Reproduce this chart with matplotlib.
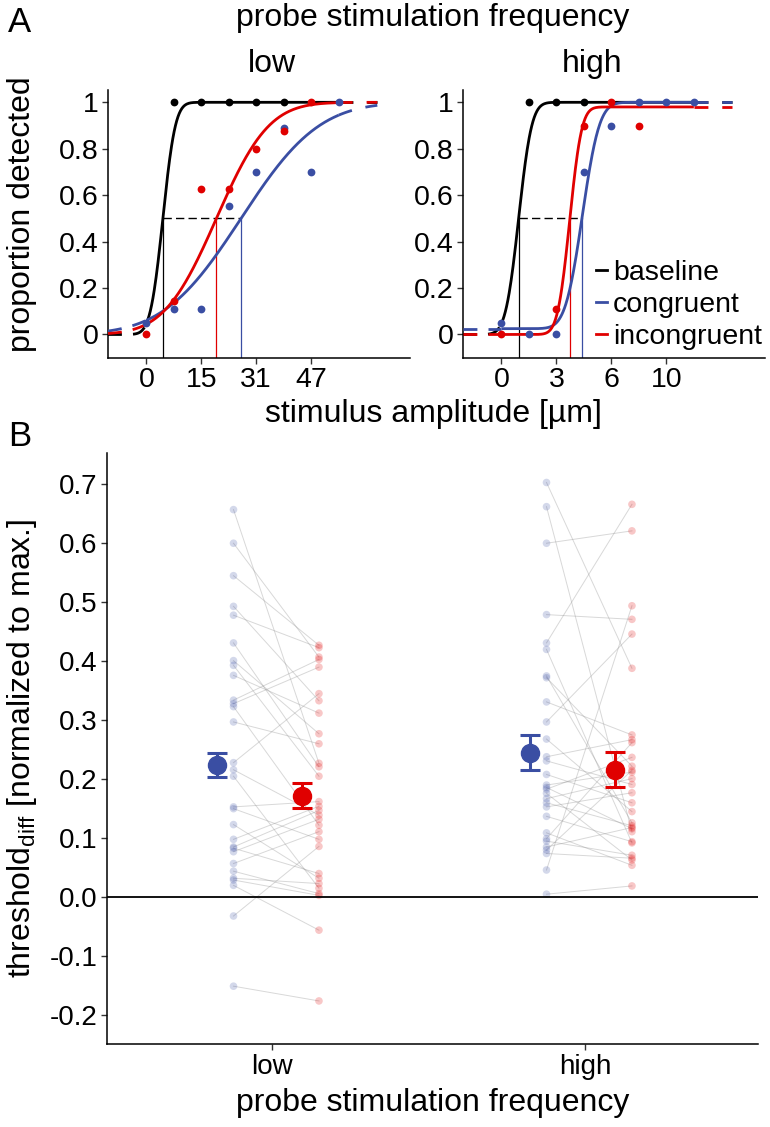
import math
import numpy as np
import matplotlib
matplotlib.use("Agg")
import matplotlib.pyplot as plt
from matplotlib.lines import Line2D

plt.rcParams['font.family'] = ['Liberation Sans', 'DejaVu Sans']
plt.rcParams['mathtext.default'] = 'regular'
plt.rcParams['lines.scale_dashes'] = False

BLUE = '#3a4ea3'
RED = '#e00000'

# ---------------- panel A data ----------------
conditions = ['baseline', 'congruent', 'incongruent']
cond_colors = ['black', BLUE, RED]

# low probe frequency (stimulus amplitude in um)
low_x = [0, 7.8, 15.6, 23.4, 31.2, 39.0, 46.8, 54.7]
low_ticks = [0, 15.6, 31.2, 46.8]
low_ticklabels = ['0', '15', '31', '47']
low_base_x = [7.8, 15.6, 23.4, 31.2, 39.0]
low_base_y = [1, 1, 1, 1, 1]
low_cong_x = [0, 7.8, 15.6, 23.4, 31.2, 39.0, 46.8, 54.7]
low_cong_y = [0.05, 0.11, 0.11, 0.555, 0.70, 0.89, 0.70, 1.0]
low_incong_x = [0, 7.8, 15.6, 23.4, 31.2, 39.0, 46.8]
low_incong_y = [0.0, 0.145, 0.625, 0.625, 0.80, 0.875, 1.0]
# fitted psychometric parameters: threshold, width, guess, lapse
low_thr = [4.66, 26.9, 19.9]
low_width = [2.8, 17.4, 11.7]
low_guess = [0.0, 0.0, 0.0]
low_lapse = [0.0, 0.0, 0.0]

# high probe frequency
high_x = [0, 1.6, 3.2, 4.8, 6.4, 8.0, 9.6, 11.2]
high_ticks = [0, 3.2, 6.4, 9.6]
high_ticklabels = ['0', '3', '6', '10']
high_base_x = [1.6, 3.2, 4.8]
high_base_y = [1, 1, 1]
high_cong_x = [0, 1.6, 3.2, 4.8, 6.4, 8.0, 9.6, 11.2]
high_cong_y = [0.05, 0.0, 0.0, 0.70, 0.90, 1.0, 1.0, 1.0]
high_incong_x = [0, 3.2, 4.8, 6.4, 8.0]
high_incong_y = [0.0, 0.11, 0.90, 1.0, 0.90]
high_thr = [1.0, 4.71, 3.97]
high_width = [0.6, 0.78, 0.55]
high_guess = [0.0, 0.025, 0.0]
high_lapse = [0.0, 0.0, 0.02]

# ---------------- panel B data ----------------
cong_low = [0.657, 0.600, 0.545, 0.493, 0.478, 0.431, 0.401, 0.393, 0.376, 0.334,
            0.328, 0.323, 0.297, 0.228, 0.216, 0.205, 0.153, 0.150, 0.123, 0.098,
            0.085, 0.083, 0.077, 0.057, 0.044, 0.032, 0.029, 0.020, -0.032, -0.151]
incong_low = [0.227, 0.407, 0.427, 0.333, 0.423, 0.221, 0.277, 0.205, 0.312, 0.403,
              0.390, 0.122, 0.260, 0.345, 0.139, 0.015, 0.162, 0.098, 0.032, 0.154,
              0.147, 0.040, 0.132, 0.111, 0.006, 0.023, 0.003, -0.056, 0.086, -0.176]
cong_high = [0.703, 0.662, 0.600, 0.479, 0.431, 0.420, 0.375, 0.372, 0.331, 0.297,
             0.268, 0.238, 0.231, 0.208, 0.190, 0.186, 0.183, 0.176, 0.167, 0.160,
             0.153, 0.137, 0.109, 0.099, 0.095, 0.085, 0.080, 0.074, 0.046, 0.005]
incong_high = [0.388, 0.111, 0.621, 0.471, 0.666, 0.092, 0.126, 0.222, 0.275, 0.446,
               0.145, 0.267, 0.191, 0.160, 0.212, 0.116, 0.237, 0.063, 0.201, 0.121,
               0.177, 0.094, 0.054, 0.262, 0.071, 0.118, 0.215, 0.066, 0.494, 0.019]
freq_labels = ['low', 'high']
mean_cong = [0.224, 0.245]
se_cong = [0.0205, 0.030]
mean_incong = [0.172, 0.216]
se_incong = [0.0215, 0.0295]

W, H = 770, 1127
fig = plt.figure(figsize=(W / 100, H / 100), dpi=100)


def box(x0, y0, x1, y1):
    return [x0 / W, 1 - y1 / H, (x1 - x0) / W, (y1 - y0) / H]


def psy(x, thr, width, guess, lapse):
    x = np.asarray(x, dtype=float)
    phi = 0.5 * (1 + np.vectorize(math.erf)((x - thr) / (width * math.sqrt(2))))
    return guess + (1 - guess - lapse) * phi


def panel_a(ax, xs, ticks, ticklabels, pts, thr, width, guess, lapse):
    lo, hi = min(xs), max(xs)
    ext = 0.2 * (hi - lo)
    for i, c in enumerate(cond_colors):
        p = (thr[i], width[i], guess[i], lapse[i])
        xx = np.linspace(lo, hi, 300)
        ax.plot(xx, psy(xx, *p), color=c, lw=2.0, solid_capstyle='butt', zorder=3)
        xl = np.linspace(lo - ext, lo, 50)
        ax.plot(xl, psy(xl, *p), color=c, lw=2.0, dashes=(10, 8), zorder=3)
        xr = np.linspace(hi, hi + ext, 50)
        ax.plot(xr, psy(xr, *p), color=c, lw=2.0, dashes=(10, 10), zorder=3)
    for i, c in enumerate(cond_colors):
        ax.plot([thr[i], thr[i]], [-0.1, 0.5], color=c, lw=0.9, zorder=2)
    ax.plot([thr[0], max(thr)], [0.5, 0.5], color='black', lw=1.0,
            dashes=(6, 3), zorder=2)
    for (px, py), c in zip(pts, cond_colors):
        ax.plot(px, py, 'o', color=c, ms=5.6, mec='none', zorder=4)
    ax.set_xlim(lo - ext, hi + 0.37 * (hi - lo))
    ax.set_ylim(-0.1, 1.053)
    ax.set_xticks(ticks)
    ax.set_xticklabels(ticklabels)
    ax.set_yticks([0, 0.2, 0.4, 0.6, 0.8, 1.0])
    ax.set_yticklabels(['0', '0.2', '0.4', '0.6', '0.8', '1'])


def style(ax, size=20.5):
    for s in ['top', 'right']:
        ax.spines[s].set_visible(False)
    for s in ['left', 'bottom']:
        ax.spines[s].set_linewidth(1.1)
    ax.tick_params(labelsize=size, length=4, width=1.0, color='#333333', pad=3)


axA1 = fig.add_axes(box(108, 90, 410, 357.7))
axA2 = fig.add_axes(box(463, 90, 765, 357.7))
panel_a(axA1, low_x, low_ticks, low_ticklabels,
        [(low_base_x, low_base_y), (low_cong_x, low_cong_y), (low_incong_x, low_incong_y)],
        low_thr, low_width, low_guess, low_lapse)
panel_a(axA2, high_x, high_ticks, high_ticklabels,
        [(high_base_x, high_base_y), (high_cong_x, high_cong_y), (high_incong_x, high_incong_y)],
        high_thr, high_width, high_guess, high_lapse)
style(axA1)
style(axA2)

handles = [Line2D([], [], color=c, lw=2.0) for c in cond_colors]
axA2.legend(handles, conditions, loc='lower right', bbox_to_anchor=(0.99, 0.03),
            frameon=False, fontsize=20.5, handlelength=0.4, handletextpad=0.2,
            labelspacing=0.2, borderaxespad=0, borderpad=0)

# ---------------- panel B ----------------
axB = fig.add_axes(box(107, 453, 758, 1044))
xpos = np.array([1, 2])
for k in range(2):
    c_vals = [cong_low, cong_high][k]
    i_vals = [incong_low, incong_high][k]
    xb = xpos[k] - 0.123
    xr = xpos[k] + 0.15
    for a, b in zip(c_vals, i_vals):
        axB.plot([xb, xr], [a, b], color='#909090', lw=0.7, alpha=0.35, zorder=1)
    axB.scatter([xb] * len(c_vals), c_vals, s=30, color=BLUE, alpha=0.22,
                edgecolors='none', zorder=2)
    axB.scatter([xr] * len(i_vals), i_vals, s=30, color=RED, alpha=0.22,
                edgecolors='none', zorder=2)
axB.axhline(0, color='black', lw=1.3, zorder=3)
axB.errorbar(xpos - 0.176, mean_cong, yerr=se_cong, fmt='o', color=BLUE, ms=13,
             elinewidth=2.2, capsize=7, capthick=2.2, zorder=5)
axB.errorbar(xpos + 0.096, mean_incong, yerr=se_incong, fmt='o', color=RED, ms=13,
             elinewidth=2.2, capsize=7, capthick=2.2, zorder=5)
axB.set_xlim(1 - 165 / 313, 1 + (758 - 272) / 313)
axB.set_ylim(-0.249, 0.753)
axB.set_xticks(xpos)
axB.set_xticklabels(freq_labels)
yt = np.round(np.arange(-0.2, 0.71, 0.1), 1)
axB.set_yticks(yt)
axB.set_yticklabels(['%.1f' % v for v in yt])
style(axB, 20)
axB.set_xlabel('probe stimulation frequency', fontsize=23, labelpad=6)

# ---------------- figure texts ----------------
fig.text(8 / W, 1 - 22 / H, 'A', fontsize=25, va='center', ha='left')
fig.text(8 / W, 1 - 437 / H, 'B', fontsize=25, va='center', ha='left')
fig.text(433 / W, 1 - 18 / H, 'probe stimulation frequency', fontsize=23,
         ha='center', va='center')
fig.text(272 / W, 1 - 64 / H, 'low', fontsize=23, ha='center', va='center')
fig.text(592 / W, 1 - 64 / H, 'high', fontsize=23, ha='center', va='center')
fig.text(433 / W, 1 - 414 / H, 'stimulus amplitude [µm]', fontsize=23,
         ha='center', va='center')
fig.text(22 / W, 1 - 214 / H, 'proportion detected', fontsize=23,
         ha='center', va='center', rotation=90)
fig.text(22 / W, 1 - 748 / H, r'threshold$_{diff}$ [normalized to max.]', fontsize=23,
         ha='center', va='center', rotation=90)

fig.savefig('out.png', dpi=100)
